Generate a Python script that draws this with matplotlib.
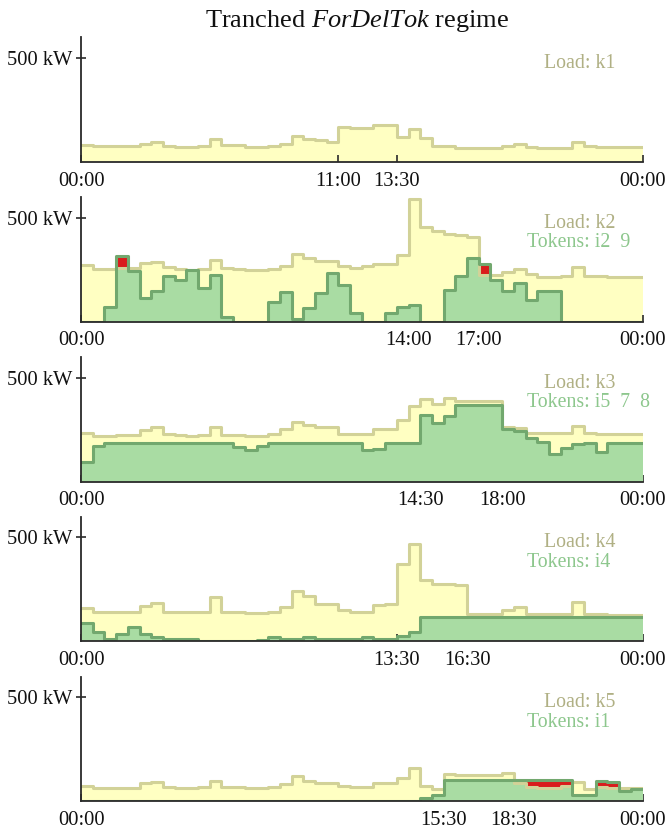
import numpy as np
import matplotlib
matplotlib.use("Agg")
import matplotlib.pyplot as plt

plt.rcParams['font.family'] = ['Liberation Serif', 'DejaVu Serif']
plt.rcParams['mathtext.fontset'] = 'custom'
plt.rcParams['mathtext.rm'] = 'Liberation Serif'
plt.rcParams['mathtext.it'] = 'Liberation Serif:italic'

# ---- data (kW per 30-minute slot, 48 slots) ----
load_k1 = [83, 75, 75, 75, 75, 88, 94, 78, 73, 73, 78, 109, 81, 81, 73, 73, 78, 88, 123, 113,
           104, 97, 168, 164, 164, 179, 179, 120, 160, 118, 75, 75, 69, 69, 69, 69, 78, 86, 72, 69,
           69, 69, 96, 75, 70, 70, 70, 73]
load_k2 = [271, 255, 255, 258, 260, 284, 287, 265, 252, 248, 255, 295, 260, 255, 248, 248, 252, 268, 325, 308,
           292, 292, 268, 260, 268, 279, 279, 320, 592, 454, 435, 425, 419, 409, 227, 227, 240, 252, 230, 214,
           214, 219, 263, 222, 222, 214, 214, 214]
tok_k2 = [0, 0, 73, 316, 243, 114, 146, 222, 203, 247, 162, 227, 24, 0, 0, 0, 94, 143, 11, 68,
          138, 235, 175, 41, 0, 0, 41, 73, 81, 0, 0, 154, 219, 308, 276, 203, 149, 187, 105, 149,
          149, 0, 0, 0, 0, 0, 0, 0]
load_k3 = [234, 221, 221, 224, 224, 250, 266, 231, 226, 221, 226, 266, 226, 226, 218, 218, 231, 255, 287, 274,
           266, 266, 231, 229, 229, 255, 255, 298, 366, 398, 376, 403, 390, 390, 390, 390, 263, 258, 237, 237,
           234, 234, 269, 237, 229, 229, 229, 229]
tok_k3 = [97, 174, 188, 188, 188, 188, 188, 188, 188, 188, 188, 188, 188, 169, 153, 174, 188, 188, 188, 188,
          188, 188, 188, 188, 153, 158, 188, 188, 188, 323, 282, 318, 371, 371, 371, 371, 255, 245, 210, 190,
          135, 163, 180, 185, 145, 185, 185, 185]
load_k4 = [158, 142, 142, 142, 142, 171, 184, 142, 139, 139, 142, 212, 142, 142, 137, 137, 142, 162, 242, 216,
           180, 180, 150, 142, 142, 174, 176, 373, 468, 294, 274, 277, 268, 129, 129, 129, 150, 166, 129, 129,
           129, 129, 187, 132, 132, 126, 126, 126]
tok_k4 = [87, 44, 12, 32, 69, 32, 17, 8, 8, 8, 0, 0, 0, 0, 0, 3, 19, 8, 8, 18,
          8, 8, 10, 10, 19, 10, 12, 26, 45, 118, 118, 118, 118, 118, 118, 118, 118, 118, 118, 118,
          118, 118, 118, 118, 118, 118, 118, 118]
load_k5 = [74, 64, 64, 64, 64, 85, 90, 69, 64, 64, 69, 96, 69, 69, 64, 64, 69, 83, 122, 96,
           85, 85, 74, 67, 67, 85, 85, 112, 160, 72, 58, 130, 125, 125, 125, 125, 136, 85, 66, 64,
           64, 72, 90, 56, 69, 64, 61, 64]
tok_k5 = [0] * 29 + [15, 27, 101, 101, 101, 101, 101, 101, 101, 101, 101, 101, 101, 29, 29, 98, 90, 50, 56]

loads = [load_k1, load_k2, load_k3, load_k4, load_k5]
tokens = [None, tok_k2, tok_k3, tok_k4, tok_k5]
load_labels = ["Load: k1", "Load: k2", "Load: k3", "Load: k4", "Load: k5"]
token_labels = [None, "Tokens: i2  9", "Tokens: i5  7  8", "Tokens: i4", "Tokens: i1"]
tick_hours = [[0, 11, 13.5, 24], [0, 14, 17, 24], [0, 14.5, 18, 24], [0, 13.5, 16.5, 24], [0, 15.5, 18.5, 24]]
tick_labels = [["00:00", "11:00", "13:30", "00:00"], ["00:00", "14:00", "17:00", "00:00"],
               ["00:00", "14:30", "18:00", "00:00"], ["00:00", "13:30", "16:30", "00:00"],
               ["00:00", "15:30", "18:30", "00:00"]]
slot_hours = 0.5
title_plain1 = "Tranched "
title_it = "ForDelTok"
title_plain2 = " regime"

# ---- styles ----
Y_FILL = '#ffffc2'
Y_EDGE = '#d2d298'
G_FILL = '#a9dca3'
G_EDGE = '#72a86e'
RED = '#d91c1c'
LOAD_TXT = '#b0b084'
TOK_TXT = '#8dc78d'
DARK = '#2a2a2a'
FS = 14.8
FS_LEG = 14.3

fig = plt.figure(figsize=(6.67, 8.30), dpi=100)
W, H = 667.0, 830.0
left = 81.1 / W
width = 561.4 / W
baselines = [162, 321.7, 481.7, 641, 801]
ax_h = 124.5 / H

for k in range(5):
    ax = fig.add_axes([left, 1 - baselines[k] / H, width, ax_h])
    ld = np.asarray(loads[k], dtype=float)
    n = len(ld)
    x = np.arange(n + 1) * slot_hours
    ld_e = np.append(ld, ld[-1])
    ax.fill_between(x, 0, ld_e, step='post', color=Y_FILL, lw=0, zorder=1)
    if tokens[k] is not None:
        tk = np.asarray(tokens[k], dtype=float)
        tk_e = np.append(tk, tk[-1])
        ax.fill_between(x, 0, tk_e, step='post', color=G_FILL, lw=0, zorder=2)
        over = tk > ld
        ax.bar(x[:-1][over], (tk - ld)[over], bottom=ld[over], width=slot_hours,
               align='edge', color=RED, lw=0, zorder=3)
    ax.step(x, ld_e, where='post', color=Y_EDGE, lw=2.2, zorder=4)
    if tokens[k] is not None:
        ax.step(x, tk_e, where='post', color=G_EDGE, lw=2.2, zorder=5)

    ax.set_xlim(0, 24)
    ax.set_ylim(0, 600)
    for s in ['top', 'right']:
        ax.spines[s].set_visible(False)
    for s in ['left', 'bottom']:
        ax.spines[s].set_color(DARK)
        ax.spines[s].set_linewidth(1.3)
        ax.spines[s].set_zorder(6)
    ax.set_xticks(tick_hours[k])
    ax.set_xticklabels(tick_labels[k], fontsize=FS, color='#111111')
    ax.tick_params(axis='x', direction='in', length=5, width=1.2, color=DARK, pad=7)
    ax.set_yticks([500])
    ax.set_yticklabels(["500 kW"], fontsize=FS, color='#111111')
    ax.tick_params(axis='y', direction='inout', length=7, width=1.2, color=DARK, pad=3)
    ax.patch.set_alpha(0)

    ax.text(0.8245, 0.79, load_labels[k], ha='left', va='center', transform=ax.transAxes,
            fontsize=FS_LEG, color=LOAD_TXT)
    if token_labels[k] is not None:
        ax.text(0.794, 0.633, token_labels[k], ha='left', va='center', transform=ax.transAxes,
                fontsize=FS_LEG, color=TOK_TXT)

fig.text(0.536, 0.975, title_plain1 + r"$\mathit{" + title_it + "}$" + title_plain2,
         ha='center', va='center', fontsize=19, color='#111111')

fig.savefig("out.png", dpi=100)
